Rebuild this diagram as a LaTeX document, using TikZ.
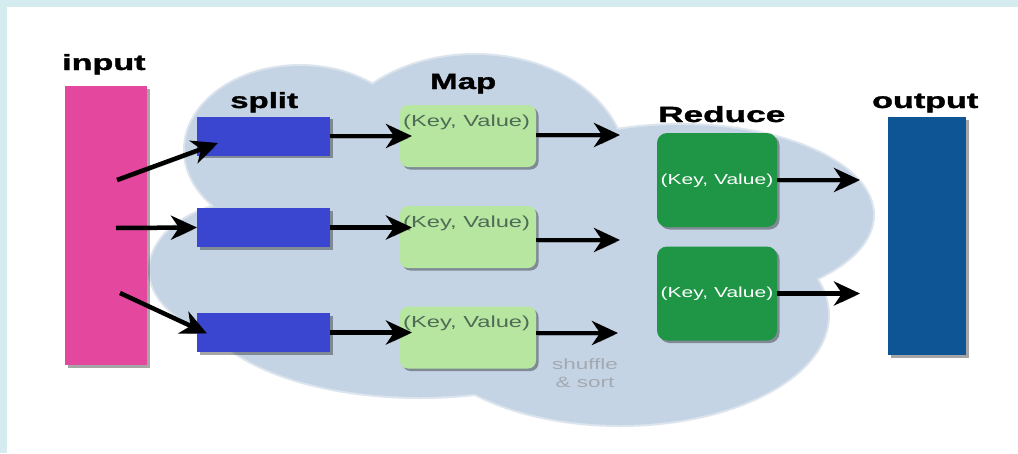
\documentclass[tikz,border=0pt]{standalone}
\usepackage{fontspec}
\usepackage{graphicx}
\setmainfont{Liberation Sans}
\newfontfamily\heavyfont{Liberation Sans}[FakeBold=1.2]
\usetikzlibrary{arrows.meta,shadows,calc}

\definecolor{framecyan}{HTML}{D4ECF0}
\definecolor{cloudblue}{HTML}{C5D4E4}
\definecolor{cloudrim}{HTML}{DCE5EE}
\definecolor{inputpink}{HTML}{E4479E}
\definecolor{splitblue}{HTML}{3A46D0}
\definecolor{mapgreen}{HTML}{B7E6A1}
\definecolor{maptext}{HTML}{4F6B55}
\definecolor{reducegreen}{HTML}{1F9646}
\definecolor{outputblue}{HTML}{0E5596}
\definecolor{shuffletext}{HTML}{A3A9B0}

\begin{document}
\begin{tikzpicture}[x=1pt,y=-1pt,
  box/.style={inner sep=0, outer sep=0, draw=none,
    drop shadow={shadow xshift=2.5pt, shadow yshift=-2.5pt, opacity=0.35, fill=black}},
  splitbox/.style={box, fill=splitblue, minimum width=133pt, minimum height=39pt},
  mapbox/.style={box, fill=mapgreen, rounded corners=8pt, minimum width=136pt, minimum height=62pt},
  redbox/.style={box, fill=reducegreen, rounded corners=10pt, minimum width=120pt, minimum height=94pt},
  lbl/.style={inner sep=0, anchor=base west, font=\fontsize{22}{24}\selectfont\heavyfont\bfseries},
  kvmap/.style={inner sep=0, anchor=base west, text=maptext, font=\fontsize{16}{18}\selectfont},
  kvred/.style={inner sep=0, anchor=base, text=white, font=\fontsize{14.5}{16}\selectfont},
  arr/.style={line width=4.5pt, -{Stealth[length=26pt,width=24pt,inset=8pt]},
    preaction={draw=black, opacity=0.25, transform canvas={shift={(1.5pt,-2pt)}}}},
]
\useasboundingbox (0,0) rectangle (1018,453);

% page frame
\fill[framecyan] (0,0) rectangle (1018,453);
\fill[white] (7,7) rectangle (1018,453);

% cloud behind the processing stages, built from overlapping lobes
\foreach \cx/\cy/\rx/\ry in {300/150/115/84, 475/165/150/110, 680/215/193/90,
                             620/315/208/110, 260/270/110/70, 420/300/220/97}
  \draw[cloudrim, line width=4pt] (\cx,\cy) ellipse [x radius=\rx pt, y radius=\ry pt];
\foreach \cx/\cy/\rx/\ry in {300/150/115/84, 475/165/150/110, 680/215/193/90,
                             620/315/208/110, 260/270/110/70, 420/300/220/97}
  \fill[cloudblue] (\cx,\cy) ellipse [x radius=\rx pt, y radius=\ry pt];

% input and output bars
\node[box, fill=inputpink, minimum width=82pt, minimum height=279pt] (in) at (106,225.5) {};
\node[box, fill=outputblue, minimum width=78pt, minimum height=238pt] (out) at (927,236) {};

% split blocks
\node[splitbox] (s1) at (263.5,136) {};
\node[splitbox] (s2) at (263.5,227.5) {};
\node[splitbox] (s3) at (263.5,332.5) {};

% map blocks
\node[mapbox] (m1) at (468,136) {};
\node[mapbox] (m2) at (468,237) {};
\node[mapbox] (m3) at (468,337.5) {};

% reduce blocks
\node[redbox] (r1) at (717,180) {};
\node[redbox] (r2) at (717,293.5) {};

% stage titles
\node[lbl] (tin)  at (62,70)   {\scalebox{1.55}[1]{input}};
\node[lbl] (tsp)  at (230,108) {\scalebox{1.5}[1]{split}};
\node[lbl] (tmap) at (430,89)  {\scalebox{1.5}[1]{Map}};
\node[lbl] (tred) at (658,122) {\scalebox{1.6}[1]{Reduce}};
\node[lbl] (tout) at (872,108) {\scalebox{1.55}[1]{output}};

% key/value pairs
\node[kvmap] (kv1) at ($(m1.north west)+(3,21)$) {\scalebox{1.48}[1]{(Key, Value)}};
\node[kvmap] (kv2) at ($(m2.north west)+(3,21)$) {\scalebox{1.48}[1]{(Key, Value)}};
\node[kvmap] (kv3) at ($(m3.north west)+(3,21)$) {\scalebox{1.48}[1]{(Key, Value)}};
\node[kvred] (kr1) at ($(r1.center)+(0,4)$) {\scalebox{1.45}[1]{(Key, Value)}};
\node[kvred] (kr2) at ($(r2.center)+(0,4)$) {\scalebox{1.45}[1]{(Key, Value)}};

% shuffle note
\node[inner sep=0, align=center, text=shuffletext, font=\fontsize{15}{18}\selectfont, anchor=base]
  (shuf) at (585,387) {\scalebox{1.5}[1]{shuffle}\\\scalebox{1.5}[1]{\& sort}};

% connector end points
\coordinate (i1) at (117,180);
\coordinate (i2) at (116,228);
\coordinate (i3) at (120,293);
\coordinate (f1) at (620,135);
\coordinate (f2) at (620,240);
\coordinate (f3) at (618,333);

% input to split
\draw[arr] (i1) -- ($(s1.west)+(21,7)$);
\draw[arr] (i2) -- (s2.west);
\draw[arr] (i3) -- ($(s3.west)+(10,1)$);

% split to map
\draw[arr] (s1.east) -- ($(s1.east -| m1.west)+(12,0)$);
\draw[arr] (s2.east) -- ($(s2.east -| m2.west)+(12,0)$);
\draw[arr] (s3.east) -- ($(s3.east -| m3.west)+(12,0)$);

% map to shuffle
\draw[arr] (m1.east |- f1) -- (f1);
\draw[arr] (m2.east |- f2) -- (f2);
\draw[arr] (m3.east |- f3) -- (f3);

% reduce to output
\draw[arr, shorten >=28pt] (r1.east) -- (r1.east -| out.west);
\draw[arr, shorten >=28pt] (r2.east) -- (r2.east -| out.west);
\end{tikzpicture}
\end{document}
